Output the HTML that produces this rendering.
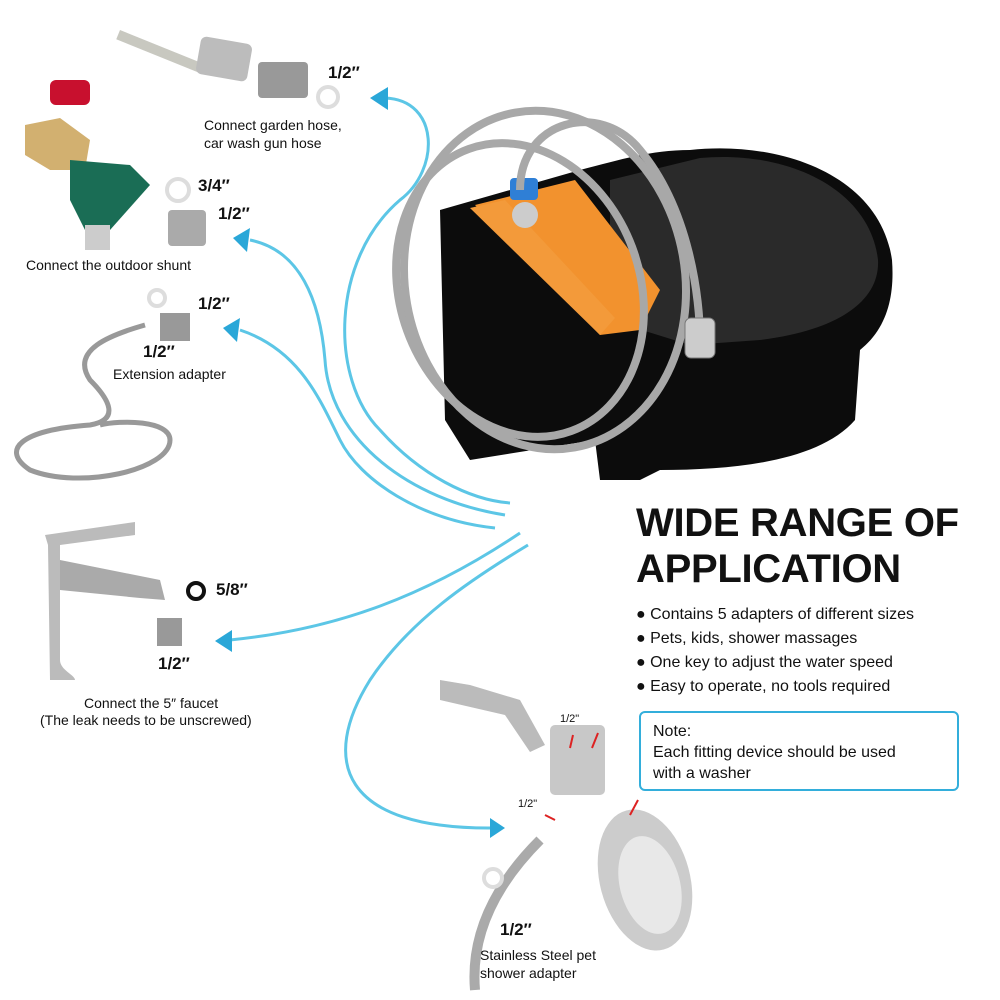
<!DOCTYPE html>
<html><head><meta charset="utf-8"><style>
body{margin:0;background:#fff;width:1000px;height:1000px;overflow:hidden;position:relative;font-family:"Liberation Sans","DejaVu Sans",sans-serif;}
.t{position:absolute;white-space:nowrap;color:#111;}
.b{font-weight:bold;font-size:17px;}
.s{font-size:14px;}
</style></head><body>
<svg width="1000" height="1000" style="position:absolute;left:0;top:0">
<!-- bowl -->
<path d="M690,150 C780,140 880,175 892,260 C895,300 885,330 860,350 L855,420 C820,460 740,470 660,470 L640,480 L600,480 L595,440 L470,460 L445,420 L440,210 L580,170 C620,160 650,150 690,150Z" fill="#0c0c0c"/>
<path d="M700,158 C790,150 870,190 878,260 C880,300 840,330 760,340 L690,345 L610,320 L610,180 Z" fill="#2a2a2a"/>
<path d="M475,205 L575,180 L660,290 L640,330 L600,335 Z" fill="#f2922e"/>
<path d="M470,208 L600,335 L615,318 L505,200Z" fill="#f39a3a"/>
<circle cx="525" cy="215" r="13" fill="#ccc"/>
<rect x="510" y="178" width="28" height="22" rx="4" fill="#2f7fd6"/>
<!-- hoses -->
<g fill="none" stroke="#a8a8a8" stroke-width="8">
<ellipse cx="520" cy="290" rx="120" ry="150" transform="rotate(-20 520 290)"/>
<ellipse cx="545" cy="280" rx="140" ry="170" transform="rotate(-10 545 280)"/>
<path d="M520,190 C520,120 600,100 640,150 C690,210 700,300 700,340"/>
</g>
<rect x="685" y="318" width="30" height="40" rx="6" fill="#ccc" stroke="#777"/>
<!-- left items -->
<rect x="120" y="30" width="90" height="10" fill="#c8c8c0" transform="rotate(22 120 30)"/>
<rect x="198" y="40" width="52" height="38" rx="6" fill="#bcbcbc" transform="rotate(10 224 59)"/>
<rect x="258" y="62" width="50" height="36" rx="4" fill="#999"/>
<circle cx="328" cy="97" r="10" fill="none" stroke="#ddd" stroke-width="4"/>
<rect x="50" y="80" width="40" height="25" fill="#c8102e" rx="6"/>
<path d="M25,125 L60,118 L90,140 L85,170 L50,170 L25,155Z" fill="#d2b070"/>
<path d="M70,160 L130,165 L150,185 L110,230 L85,230 L70,200Z" fill="#1a6d55"/>
<rect x="85" y="225" width="25" height="25" fill="#ccc"/>
<circle cx="178" cy="190" r="11" fill="none" stroke="#ddd" stroke-width="4"/>
<rect x="168" y="210" width="38" height="36" fill="#aaa" rx="4"/>
<circle cx="157" cy="298" r="8" fill="none" stroke="#ddd" stroke-width="4"/>
<rect x="160" y="313" width="30" height="28" fill="#999"/>
<path d="M145,325 C110,335 70,350 90,380 C110,400 120,420 90,425 C20,430 0,450 30,470 C80,490 170,470 170,440 C170,420 120,420 100,425" fill="none" stroke="#999" stroke-width="5"/>
<path d="M45,535 L135,522 L135,535 L60,545 L60,660 C60,670 75,675 75,680 L50,680 L48,545Z" fill="#bbb"/>
<path d="M60,560 L160,580 L165,600 L140,598 L60,590Z" fill="#aaa"/>
<circle cx="196" cy="591" r="8" fill="none" stroke="#111" stroke-width="4"/>
<rect x="157" y="618" width="25" height="28" fill="#999"/>
<!-- shower -->
<path d="M440,680 L470,685 L520,700 L545,745 L530,752 L505,715 L440,700Z" fill="#bbb"/>
<rect x="550" y="725" width="55" height="70" fill="#c8c8c8" rx="5"/>
<ellipse cx="645" cy="880" rx="45" ry="72" fill="#ccc" transform="rotate(-15 645 880)"/>
<ellipse cx="650" cy="885" rx="30" ry="50" fill="#e8e8e8" transform="rotate(-15 650 885)"/>
<path d="M475,990 C470,930 500,880 540,840" fill="none" stroke="#aaa" stroke-width="10"/>
<circle cx="493" cy="878" r="9" fill="none" stroke="#ddd" stroke-width="4"/>
<!-- blue curves -->
<g fill="none" stroke="#5cc6e6" stroke-width="3">
<path d="M385,98 C440,100 440,170 400,200 C330,260 330,380 380,430 C420,475 470,500 510,503"/>
<path d="M250,240 C300,250 320,300 325,360 C330,440 410,500 505,515"/>
<path d="M240,330 C300,350 320,400 340,440 C360,480 420,520 495,528"/>
<path d="M230,640 C330,630 420,600 520,533"/>
<path d="M495,828 C340,830 320,760 370,680 C410,620 470,580 528,545"/>
</g>
<g fill="#2aa7d8">
<path d="M370,98 L388,87 L388,110Z"/>
<path d="M233,238 L250,228 L247,252Z"/>
<path d="M223,328 L240,318 L237,342Z"/>
<path d="M215,641 L232,630 L232,652Z"/>
<path d="M505,828 L490,818 L490,838Z"/>
</g>
<g stroke="#d22" stroke-width="2"><path d="M573,735 L570,748"/><path d="M598,733 L592,748"/><path d="M545,815 L555,820"/><path d="M638,800 L630,815"/></g>
<rect x="640" y="712" width="318" height="78" rx="5" fill="none" stroke="#33aedb" stroke-width="2"/>
</svg>
<div class="t b" style="left:328px;top:63px">1/2″</div>
<div class="t s" style="left:204px;top:116px;line-height:18px">Connect garden hose,<br>car wash gun hose</div>
<div class="t b" style="left:198px;top:176px">3/4″</div>
<div class="t b" style="left:218px;top:204px">1/2″</div>
<div class="t s" style="left:26px;top:257px">Connect the outdoor shunt</div>
<div class="t b" style="left:198px;top:294px">1/2″</div>
<div class="t b" style="left:143px;top:342px">1/2″</div>
<div class="t s" style="left:113px;top:366px">Extension adapter</div>
<div class="t b" style="left:216px;top:580px">5/8″</div>
<div class="t b" style="left:158px;top:654px">1/2″</div>
<div class="t s" style="left:84px;top:694px;line-height:18px;text-align:center">Connect the 5″ faucet</div>
<div class="t s" style="left:40px;top:712px">(The leak needs to be unscrewed)</div>
<div class="t" style="left:636px;top:500px;font-size:40px;font-weight:900;line-height:46px;letter-spacing:-0.3px">WIDE RANGE OF<br>APPLICATION</div>
<div class="t" style="left:636px;top:603px;font-size:16px;line-height:24px">● Contains 5 adapters of different sizes<br>● Pets, kids, shower massages<br>● One key to adjust the water speed<br>● Easy to operate, no tools required</div>
<div class="t" style="left:653px;top:721px;font-size:16px;line-height:21px">Note:<br>Each fitting device should be used<br>with a washer</div>
<div class="t" style="left:560px;top:713px;font-size:11px">1/2"</div>
<div class="t" style="left:518px;top:798px;font-size:11px">1/2"</div>
<div class="t b" style="left:500px;top:920px">1/2″</div>
<div class="t s" style="left:480px;top:946px;line-height:18px">Stainless Steel pet<br>shower adapter</div>
</body></html>
